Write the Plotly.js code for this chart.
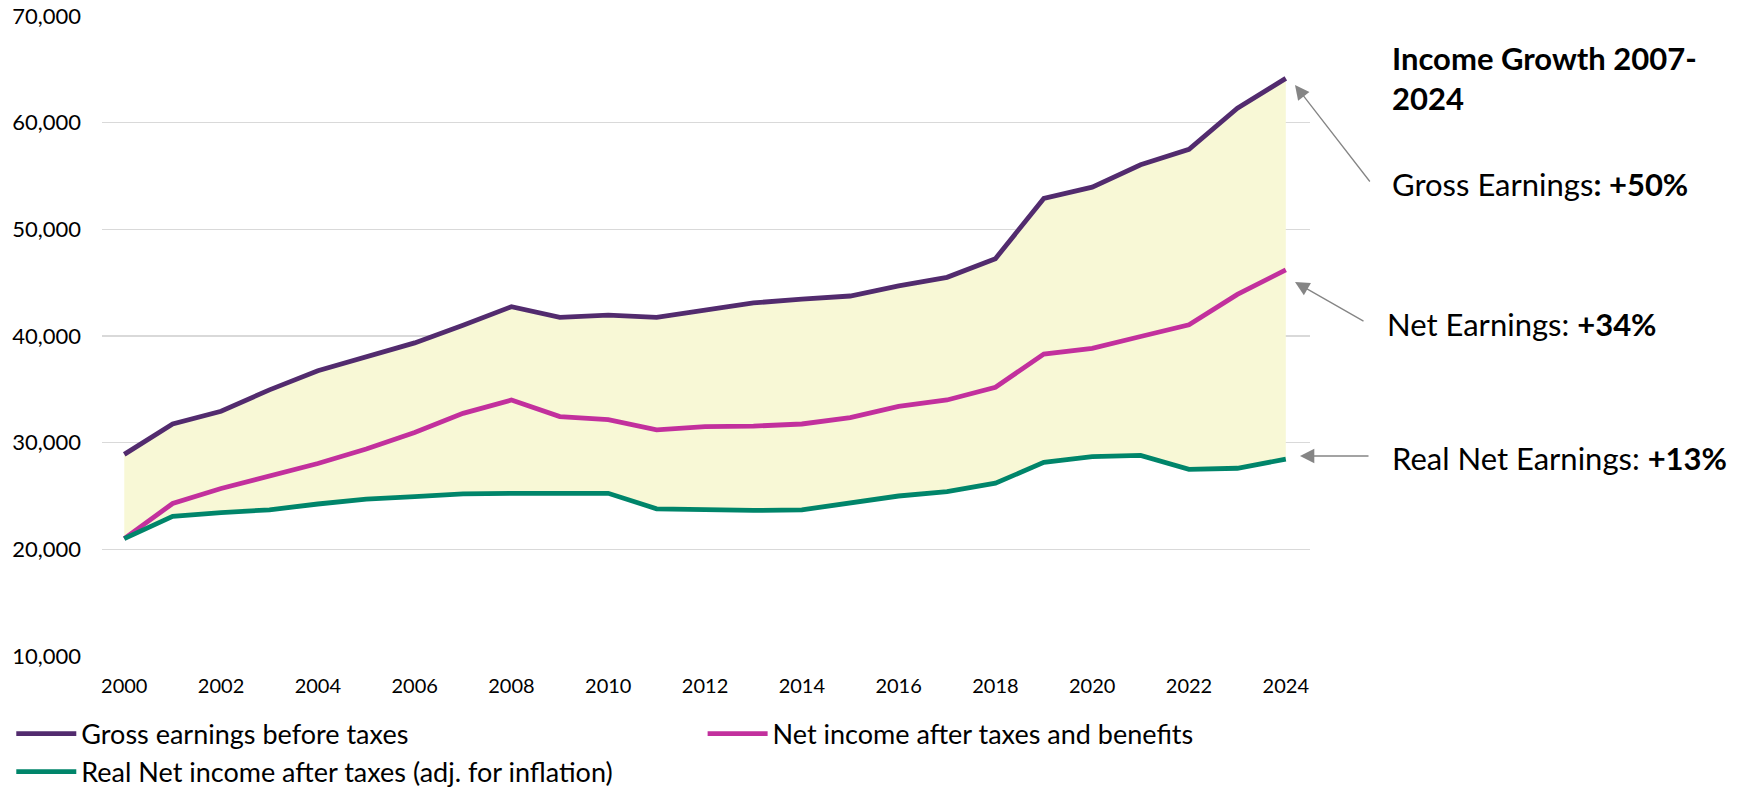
<!DOCTYPE html>
<html><head><meta charset="utf-8">
<script src="https://cdn.plot.ly/plotly-3.0.1.min.js"></script>
<style>html,body{margin:0;padding:0;background:#fff}#chart{width:1737px;height:791px}</style>
</head><body><div id="chart"></div>
<script>
const years = [2000,2001,2002,2003,2004,2005,2006,2007,2008,2009,2010,2011,2012,2013,2014,2015,2016,2017,2018,2019,2020,2021,2022,2023,2024];
const grossEarnings = [28900,31750,32950,34950,36750,38050,39350,41000,42750,41750,41950,41750,42450,43100,43450,43750,44700,45500,47250,52900,53950,56050,57500,61350,64150];
const netIncome = [21000,24300,25700,26900,28050,29400,30950,32750,34000,32450,32150,31200,31500,31550,31750,32350,33400,34000,35200,38300,38850,39950,41050,43900,46200];
const realNetIncome = [21000,23100,23450,23700,24250,24700,24950,25200,25250,25250,25250,23800,23700,23650,23700,24300,25000,25400,26200,28150,28700,28800,27500,27600,28450];
const seriesNames = ["Gross earnings before taxes","Net income after taxes and benefits","Real Net income after taxes (adj. for inflation)"];
const seriesColors = ["#522B6E","#C2309D","#00856A"];
const yTickVals = [10000,20000,30000,40000,50000,60000,70000];
const xTickVals = [2000,2002,2004,2006,2008,2010,2012,2014,2016,2018,2020,2022,2024];

const FONT = 'Lato, "Open Sans", "DejaVu Sans", sans-serif';
const fillColor = "#F8F8D6";

const traces = [
  {x: years, y: realNetIncome, type: "scatter", mode: "lines", line: {width: 0, color: fillColor}, showlegend: false, hoverinfo: "skip"},
  {x: years, y: grossEarnings, type: "scatter", mode: "lines", fill: "tonexty", fillcolor: fillColor, line: {width: 0, color: fillColor}, showlegend: false, hoverinfo: "skip"},
  {x: years, y: grossEarnings, name: seriesNames[0], type: "scatter", mode: "lines", line: {color: seriesColors[0], width: 4.8}, legend: "legend"},
  {x: years, y: netIncome, name: seriesNames[1], type: "scatter", mode: "lines", line: {color: seriesColors[1], width: 4.8}, legend: "legend2"},
  {x: years, y: realNetIncome, name: seriesNames[2], type: "scatter", mode: "lines", line: {color: seriesColors[2], width: 4.8}, legend: "legend"}
];

const L = 102, R = 427, T = 16, B = 135, W = 1737, H = 791;
const pw = W - L - R, ph = H - T - B;
const px = X => (X - L) / pw;
const py = Y => (H - B - Y) / ph;

const textFont = {family: FONT, size: 31, color: "#000"};
const annotations = [
  {xref: "paper", yref: "paper", x: px(1390), y: py(58), xanchor: "left", yanchor: "middle", showarrow: false, text: "<b>Income Growth 2007-</b>", font: textFont},
  {xref: "paper", yref: "paper", x: px(1390), y: py(98), xanchor: "left", yanchor: "middle", showarrow: false, text: "<b>2024</b>", font: textFont},
  {xref: "paper", yref: "paper", x: px(1390), y: py(184), xanchor: "left", yanchor: "middle", showarrow: false, text: "Gross Earnings<b>: +50%</b>", font: textFont},
  {xref: "paper", yref: "paper", x: px(1385), y: py(324), xanchor: "left", yanchor: "middle", showarrow: false, text: "Net Earnings: <b>+34%</b>", font: textFont},
  {xref: "paper", yref: "paper", x: px(1390), y: py(458), xanchor: "left", yanchor: "middle", showarrow: false, text: "Real Net Earnings: <b>+13%</b>", font: textFont},
  {xref: "paper", yref: "paper", x: px(1295), y: py(85), ax: 76, ay: 98, axref: "pixel", ayref: "pixel", text: "", showarrow: true, arrowhead: 2, arrowsize: 2.2, arrowwidth: 1.3, arrowcolor: "#858585"},
  {xref: "paper", yref: "paper", x: px(1295), y: py(282), ax: 70, ay: 40, axref: "pixel", ayref: "pixel", text: "", showarrow: true, arrowhead: 2, arrowsize: 2.2, arrowwidth: 1.3, arrowcolor: "#858585"},
  {xref: "paper", yref: "paper", x: px(1300), y: py(456), ax: 70, ay: 0, axref: "pixel", ayref: "pixel", text: "", showarrow: true, arrowhead: 2, arrowsize: 2.2, arrowwidth: 1.3, arrowcolor: "#858585"}
];

const legendFont = {family: FONT, size: 27, color: "#000"};
const layout = {
  width: W, height: H,
  margin: {l: L, r: R, t: T, b: B, pad: 0, autoexpand: false},
  paper_bgcolor: "#fff", plot_bgcolor: "#fff",
  font: {family: FONT, color: "#000", size: 20},
  separators: ".,",
  showlegend: true,
  xaxis: {range: [1999.54, 2024.5], tickvals: xTickVals, ticktext: xTickVals.map(String), tickangle: 0, automargin: false, showgrid: false, zeroline: false, showline: false, ticks: "", ticklabelstandoff: 16, tickfont: {family: FONT, size: 20, color: "#000"}, fixedrange: true},
  yaxis: {range: [10000, 70000], tickvals: yTickVals, tickformat: ",", automargin: false, showgrid: true, gridcolor: "#D9D9D9", gridwidth: 1.5, zeroline: false, showline: false, ticks: "", ticklabelstandoff: 20, tickfont: {family: FONT, size: 22, color: "#000"}, fixedrange: true},
  legend: {orientation: "v", xref: "container", yref: "container", x: 0.0065, y: 0.103, xanchor: "left", yanchor: "top", itemwidth: 60, font: legendFont, bgcolor: "rgba(0,0,0,0)", traceorder: "normal", tracegroupgap: 0},
  legend2: {orientation: "v", xref: "container", yref: "container", x: 0.4045, y: 0.103, xanchor: "left", yanchor: "top", itemwidth: 60, font: legendFont, bgcolor: "rgba(0,0,0,0)"},
  annotations: annotations
};

Plotly.newPlot("chart", traces, layout, {displayModeBar: false, staticPlot: true});
</script>
</body></html>
